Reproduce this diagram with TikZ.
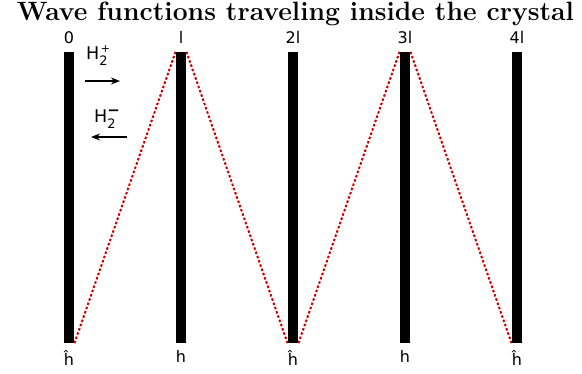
\documentclass[tikz,border=0pt]{standalone}
\usepackage{fontspec}
\usepackage{tikz}
\usetikzlibrary{arrows.meta, positioning}
\newfontfamily\labelfont{DejaVu Sans}
\newcommand{\ionlabel}[1]{H\rlap{\raisebox{7.5pt}{#1}}\raisebox{-6pt}{\fontsize{13}{13}\selectfont 2}}

\begin{document}
\begin{tikzpicture}[
        x=1pt, y=-1pt,
        node distance=8pt,
        plate/.style={rectangle, fill=black, inner sep=0pt, minimum width=10.5pt, minimum height=291pt},
        mark label/.style={font=\labelfont\fontsize{16}{18}\selectfont, inner sep=0pt},
        wave/.style={draw=red!80!black, line width=2pt, dash pattern=on 2.5pt off 2pt},
        flow/.style={-{Stealth[length=9pt,width=7pt]}, line width=1.7pt}
      ]
      \useasboundingbox (0,0) rectangle (582,374);
      \node (title) [anchor=base, font=\bfseries\fontsize{26.5}{30}\selectfont] at (295.5,20.5) {Wave functions traveling inside the crystal};

      \node (b0) [plate] at (69,197.5) {};
      \node (b1) [plate] at (181,197.5) {};
      \node (b2) [plate] at (293,197.5) {};
      \node (b3) [plate] at (405,197.5) {};
      \node (b4) [plate] at (517,197.5) {};

      \node (t0) [mark label, above=of b0] {0};
      \node (t1) [mark label, above=of b1] {l};
      \node (t2) [mark label, above=of b2] {2l};
      \node (t3) [mark label, above=of b3] {3l};
      \node (t4) [mark label, above=of b4] {4l};

      \node (h0) [mark label, below=7pt of b0] {ĥ};
      \node (h1) [mark label, below=7pt of b1] {h};
      \node (h2) [mark label, below=7pt of b2] {ĥ};
      \node (h3) [mark label, below=7pt of b3] {h};
      \node (h4) [mark label, below=7pt of b4] {ĥ};

      % zigzag between the plates
      \draw[wave] (b0.south east) -- (b1.north west);
      \draw[wave] (b1.north east) -- (b2.south west);
      \draw[wave] (b2.south east) -- (b3.north west);
      \draw[wave] (b3.north east) -- (b4.south west);

      % ions moving right and left
      \node (plus) [mark label, font=\labelfont\fontsize{17.5}{20}\selectfont, anchor=base west] at (86,60) {\ionlabel{\fontsize{11}{11}\selectfont\kern1.5pt+}};
      \coordinate (pa) at (85,81);
      \coordinate (pb) at (120,81);
      \draw[flow] (pa) -- (pb);

      \node (minus) [mark label, font=\labelfont\fontsize{17.5}{20}\selectfont, anchor=base west] at (94,123) {\ionlabel{\fontsize{15}{15}\selectfont\bfseries −}};
      \coordinate (ma) at (127,137);
      \coordinate (mb) at (91,137);
      \draw[flow] (ma) -- (mb);
    \end{tikzpicture}
\end{document}
